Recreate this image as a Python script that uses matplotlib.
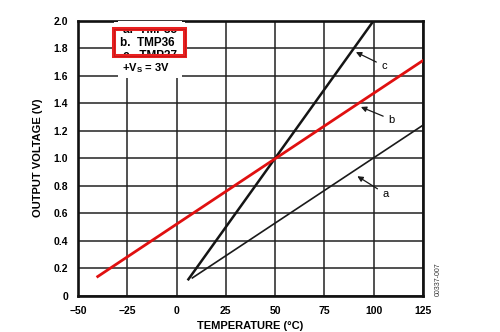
import matplotlib.pyplot as plt
from matplotlib.patches import Rectangle

plt.rcParams['font.family'] = ['Liberation Sans', 'DejaVu Sans']

# TMP35 / TMP36 / TMP37 output voltage vs temperature
temp_a = [8, 125]
volt_a = [0.13, 1.24]
temp_b = [-40, 125]
volt_b = [0.14, 1.71]
temp_c = [6, 100]
volt_c = [0.12, 2.0]

x_ticks = [-50, -25, 0, 25, 50, 75, 100, 125]
y_ticks = [0, 0.2, 0.4, 0.6, 0.8, 1.0, 1.2, 1.4, 1.6, 1.8, 2.0]
y_labels = ['0', '0.2', '0.4', '0.6', '0.8', '1.0', '1.2', '1.4', '1.6', '1.8', '2.0']

fig = plt.figure(figsize=(5, 3.32), dpi=100)
ax = fig.add_axes([0.156, 0.109, 0.69, 0.829])

ax.set_xlim(-50, 125)
ax.set_ylim(0, 2.0)
ax.set_xticks(x_ticks)
ax.set_yticks(y_ticks)
ax.set_yticklabels(y_labels)
ax.grid(True, color='#222222', linewidth=1.1)
ax.set_axisbelow(True)
ax.tick_params(length=0, pad=7, labelsize=7.5)
for lbl in ax.get_xticklabels() + ax.get_yticklabels():
    lbl.set_fontweight('bold')
for s in ax.spines.values():
    s.set_linewidth(1.9)
    s.set_color('#111111')

ax.plot(temp_a, volt_a, color='#1a1a1a', lw=1.2, zorder=3)
ax.plot(temp_c, volt_c, color='#151515', lw=1.8, zorder=3)
ax.plot(temp_b, volt_b, color='#e01010', lw=2.0, zorder=4)

arrow = dict(arrowstyle='-|>', color='#1a1a1a', lw=0.9, mutation_scale=8)
ax.annotate('c', xy=(89.7, 1.78), xytext=(104, 1.67), fontsize=8,
            ha='left', va='center', arrowprops=arrow)
ax.annotate('b', xy=(92.2, 1.38), xytext=(107.5, 1.28), fontsize=8,
            ha='left', va='center', arrowprops=arrow)
ax.annotate('a', xy=(90.5, 0.88), xytext=(104.5, 0.74), fontsize=8,
            ha='left', va='center', arrowprops=arrow)

# legend block (white background hides the grid)
ax.add_patch(Rectangle((-29.5, 1.585), 32.5, 0.42, facecolor='white',
                       edgecolor='none', zorder=5))

# highlight box around "b. TMP36", other entries only peek through it
bx, by, bw, bh = -31.7, 1.745, 36, 0.195
ax.add_patch(Rectangle((bx + 0.8, by - 0.012), bw, bh, facecolor='#999999',
                       edgecolor='none', alpha=0.35, zorder=6))
ax.add_patch(Rectangle((bx, by), bw, bh, facecolor='white',
                       edgecolor='none', zorder=7))
ax.text(-27, 1.932, 'a.  TMP35', fontsize=8.5, fontweight='bold',
        va='center', zorder=8)
ax.text(-27, 1.742, 'c.  TMP37', fontsize=8.5, fontweight='bold',
        va='center', zorder=8)
# hide the parts of those entries lying outside the box
ax.add_patch(Rectangle((bx, by + bh), bw, 1.988 - by - bh, facecolor='white',
                       edgecolor='none', zorder=8.5))
ax.add_patch(Rectangle((bx, 1.69), bw, by - 1.69, facecolor='white',
                       edgecolor='none', zorder=8.5))
ax.add_patch(Rectangle((bx, by), bw, bh, facecolor='none',
                       edgecolor='#e82020', linewidth=2.9, zorder=9))
ax.add_patch(Rectangle((bx, by), bw, bh, facecolor='none',
                       edgecolor='#b01010', linewidth=0.4, zorder=9))
ax.text(-28.8, 1.84, 'b.  TMP36', fontsize=8.5, fontweight='bold',
        va='center', zorder=10)
ax.text(-27.5, 1.655, '+V$_\\mathregular{S}$ = 3V', fontsize=8, fontweight='bold',
        va='center', zorder=10)

ax.set_xlabel('TEMPERATURE (°C)', fontsize=8, fontweight='bold', labelpad=4)
ax.set_ylabel('OUTPUT VOLTAGE (V)', fontsize=8, fontweight='bold', labelpad=8)

fig.text(0.877, 0.16, '00337-007', fontsize=5, rotation=90, color='#333333',
         ha='center', va='center')

plt.savefig('out.png', dpi=100)
